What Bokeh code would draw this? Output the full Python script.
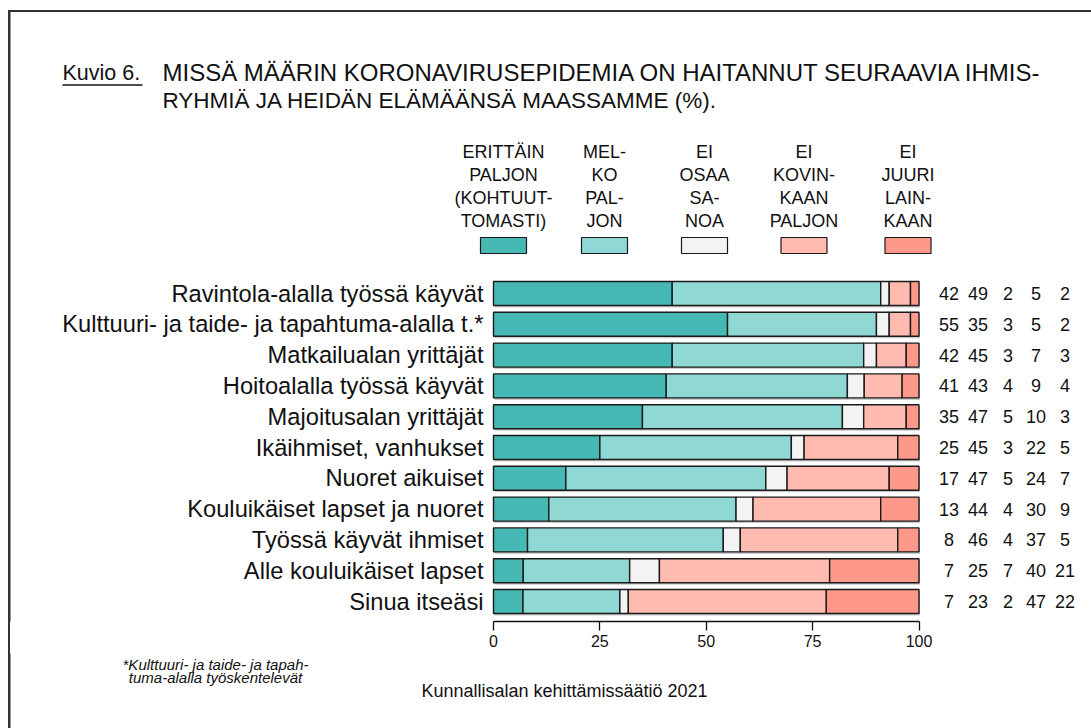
from bokeh.plotting import figure
from bokeh.layouts import column
from bokeh.models import Range1d, LinearAxis, FixedTicker
from bokeh.core.properties import value
from bokeh.embed import file_html
from bokeh.resources import INLINE

# ---------------- data ----------------
categories = [
    "Ravintola-alalla työssä käyvät",
    "Kulttuuri- ja taide- ja tapahtuma-alalla t.*",
    "Matkailualan yrittäjät",
    "Hoitoalalla työssä käyvät",
    "Majoitusalan yrittäjät",
    "Ikäihmiset, vanhukset",
    "Nuoret aikuiset",
    "Kouluikäiset lapset ja nuoret",
    "Työssä käyvät ihmiset",
    "Alle kouluikäiset lapset",
    "Sinua itseäsi",
]
erittain_paljon = [42, 55, 42, 41, 35, 25, 17, 13, 8, 7, 7]
melko_paljon = [49, 35, 45, 43, 47, 45, 47, 44, 46, 25, 23]
ei_osaa_sanoa = [2, 3, 3, 4, 5, 3, 5, 4, 4, 7, 2]
ei_kovinkaan = [5, 5, 7, 9, 10, 22, 24, 30, 37, 40, 47]
ei_juuri = [2, 2, 3, 4, 3, 5, 7, 9, 5, 21, 22]
series = [erittain_paljon, melko_paljon, ei_osaa_sanoa, ei_kovinkaan, ei_juuri]
legend_labels = [
    ["ERITTÄIN", "PALJON", "(KOHTUUT-", "TOMASTI)"],
    ["MEL-", "KO", "PAL-", "JON"],
    ["EI", "OSAA", "SA-", "NOA"],
    ["EI", "KOVIN-", "KAAN", "PALJON"],
    ["EI", "JUURI", "LAIN-", "KAAN"],
]
tick_values = [0, 25, 50, 75, 100]
title_label = "Kuvio 6."
title_lines = ["MISSÄ MÄÄRIN KORONAVIRUSEPIDEMIA ON HAITANNUT SEURAAVIA IHMIS-",
               "RYHMIÄ JA HEIDÄN ELÄMÄÄNSÄ MAASSAMME (%)."]
footnote_lines = ["*Kulttuuri- ja taide- ja tapah-", "tuma-alalla työskentelevät"]
source_text = "Kunnallisalan kehittämissäätiö 2021"

# ---------------- styles / layout ----------------
colors = ["#47b9b5", "#8fd8d3", "#f3f3f3", "#ffbbb0", "#fe988a"]
FONT = "Liberation Sans"
TXT = "#111111"
W, H = 1091, 728
X0, PXU = 493.0, 4.255      # page x of value 0, pixels per percent
Y0, ROWPX = 293.0, 30.8     # page y of first row, pixels per row
FRAME_BOTTOM = 621          # axis line
MAIN_H = 653                # main figure height (frame + axis panel)
BORDER = "#333333"


def dx(px):
    return (px - X0) / PXU


def dy(py):
    return (py - Y0) / ROWPX


xr = Range1d(dx(0), dx(W))

p = figure(width=W, height=MAIN_H, output_backend="svg", toolbar_location=None,
           title=None, x_axis_location=None, y_axis_location=None,
           x_range=xr, y_range=Range1d(dy(FRAME_BOTTOM), dy(0)),
           min_border_left=0, min_border_right=0, min_border_top=0,
           min_border_bottom=MAIN_H - FRAME_BOTTOM)
p.outline_line_color = None
p.grid.visible = False
p.background_fill_color = None
p.border_fill_color = None

n = len(categories)
ys = list(range(n))
totals = [sum(s[i] for s in series) for i in range(n)]

# faint shadow under each bar
p.hbar(y=[v + 2.0 / ROWPX for v in ys], left=[1.0 / PXU] * n, right=[100 + 1.0 / PXU] * n,
       height=0.78, fill_color="#cccccc", line_color=None)

cum = [0.0] * n
for s, col in zip(series, colors):
    left = [cum[i] / totals[i] * 100 for i in range(n)]
    cum = [cum[i] + s[i] for i in range(n)]
    right = [cum[i] / totals[i] * 100 for i in range(n)]
    p.hbar(y=ys, left=left, right=right, height=0.78, fill_color=col,
           line_color="#1a1a1a", line_width=1.4)

# category labels
p.text(x=[0] * n, y=ys, text=categories, x_offset=-10, text_align="right",
       text_baseline="middle", text_font=value(FONT), text_font_size="23.7px",
       text_color=TXT)

# value columns on the right
col_offsets = [30, 59, 89, 117, 146]
for s, off in zip(series, col_offsets):
    p.text(x=[100] * n, y=ys, text=[str(v) for v in s], x_offset=off,
           text_align="center", text_baseline="middle", text_font=value(FONT),
           text_font_size="18px", text_color=TXT)

# legend
leg_px = [503, 604, 704, 803.5, 907.5]
leg_x = [dx(v) for v in leg_px]
p.rect(x=leg_x, y=[dy(245)] * 5, width=46 / PXU, height=16 / ROWPX,
       fill_color=colors, line_color="#1a1a1a", line_width=1.2)
for k in range(4):
    p.text(x=leg_x, y=[dy(151 + 23.2 * k)] * 5, text=[lab[k] for lab in legend_labels],
           text_align="center", text_baseline="middle", text_font=value(FONT),
           text_font_size="18px", text_color=TXT)

# title
p.text(x=[dx(62)], y=[dy(72)], text=[title_label], text_align="left",
       text_baseline="middle", text_font=value(FONT), text_font_size="21.5px",
       text_color=TXT)
p.segment(x0=[dx(62)], y0=[dy(84.5)], x1=[dx(142)], y1=[dy(84.5)],
          line_color=TXT, line_width=1.3)
title_sizes = ["24px", "22.5px"]
for k, line in enumerate(title_lines):
    p.text(x=[dx(162)], y=[dy(72 + 28 * k)], text=[line], text_align="left",
           text_baseline="middle", text_font=value(FONT), text_font_size=title_sizes[k],
           text_color=TXT)

# outer frame lines (top, left) inside main figure
p.segment(x0=[dx(8), dx(9)], y0=[dy(10.5), dy(10)], x1=[dx(W + 5), dx(9)],
          y1=[dy(10.5), dy(MAIN_H + 5)], line_color=BORDER, line_width=2)

# x axis
xaxis = LinearAxis(ticker=FixedTicker(ticks=tick_values), bounds=(0, 100))
xaxis.axis_line_color = "#111111"
xaxis.axis_line_width = 1.3
xaxis.major_tick_line_color = "#111111"
xaxis.major_tick_line_width = 1.3
xaxis.major_tick_out = 9
xaxis.major_tick_in = 0
xaxis.minor_tick_line_color = None
xaxis.major_label_text_font = FONT
xaxis.major_label_text_font_size = "16px"
xaxis.major_label_text_color = TXT
xaxis.major_label_standoff = 4
p.add_layout(xaxis, "below")

# bottom strip: footnote and source
q = figure(width=W, height=H - MAIN_H, output_backend="svg", toolbar_location=None,
           title=None, x_axis_location=None, y_axis_location=None,
           x_range=xr, y_range=Range1d(dy(H), dy(MAIN_H)),
           min_border=0)
q.outline_line_color = None
q.grid.visible = False
q.background_fill_color = None
q.border_fill_color = None
for k, line in enumerate(footnote_lines):
    q.text(x=[dx(215)], y=[dy(664 + 12.5 * k)], text=[line], text_align="center",
           text_baseline="middle", text_font=value(FONT), text_font_size="15px",
           text_font_style="italic", text_color=TXT)
q.text(x=[dx(564)], y=[dy(690)], text=[source_text], text_align="center",
       text_baseline="middle", text_font=value(FONT), text_font_size="18px",
       text_color=TXT)
q.segment(x0=[dx(9)], y0=[dy(MAIN_H - 5)], x1=[dx(9)], y1=[dy(H + 5)],
          line_color=BORDER, line_width=2)

layout = column(p, q, spacing=0)
# left frame edge drawn behind the (transparent) canvases, spanning the axis panel too
layout.styles = {
    "background-image": "linear-gradient(#333333, #333333)",
    "background-size": "2px 720px",
    "background-position": "8px 10px",
    "background-repeat": "no-repeat",
}
open("out.html", "w").write(file_html(layout, INLINE))
